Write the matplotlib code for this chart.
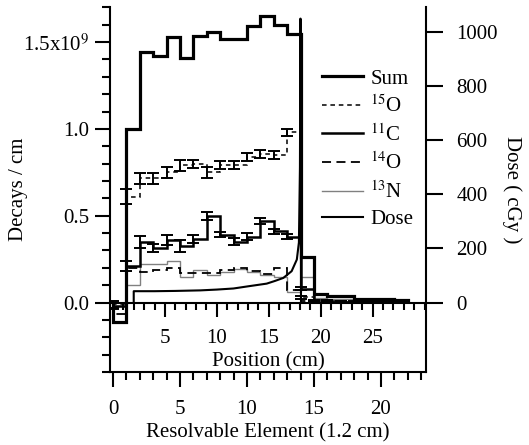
import numpy as np
import matplotlib
matplotlib.use("Agg")
import matplotlib.pyplot as plt
from matplotlib.ticker import MultipleLocator
from matplotlib.lines import Line2D

plt.rcParams['font.family'] = ['Liberation Serif', 'DejaVu Serif']
plt.rcParams['mathtext.fontset'] = 'stix'

# ---------------- data ----------------
CM_PER_ELEMENT = 1.29          # horizontal scale relation between the two x axes
DOSE_PER_UNIT = 642.0          # cGy per 1e9 decays/cm on the shared vertical scale

bin_edges = np.arange(0, 23)   # resolvable elements 0..22

# decays / cm in units of 1e9 (one value per element bin)
sum_vals = [-0.114, 1.00, 1.444, 1.42, 1.53, 1.406, 1.537, 1.556, 1.516, 1.52, 1.593,
            1.652, 1.598, 1.546, 0.26, 0.047, 0.035, 0.035, 0.02, 0.02, 0.018, 0.015]
o15_vals = [-0.01, 0.61, 0.715, 0.715, 0.75, 0.79, 0.80, 0.75, 0.79, 0.79, 0.84,
            0.855, 0.85, 0.98, 0.03, 0.012, 0.008, 0.006, 0.004, 0.004, 0.003, 0.003]
o15_err = [0.02, 0.043, 0.03, 0.03, 0.033, 0.03, 0.023, 0.03, 0.023, 0.023, 0.022,
           0.024, 0.022, 0.021, 0.01, 0.005, 0.004, 0.004, 0.003, 0.003, 0.003, 0.003]
c11_vals = [-0.02, 0.21, 0.35, 0.315, 0.36, 0.325, 0.365, 0.50, 0.39, 0.35, 0.38,
            0.47, 0.41, 0.38, 0.08, 0.006, 0.004, 0.004, 0.003, 0.003, 0.002, 0.002]
c11_err = [0.02, 0.03, 0.033, 0.025, 0.029, 0.034, 0.023, 0.022, 0.014, 0.019, 0.021,
           0.018, 0.015, 0.012, 0.01, 0.004, 0.003, 0.003, 0.003, 0.003, 0.003, 0.003]
o14_vals = [-0.065, 0.20, 0.175, 0.19, 0.20, 0.17, 0.17, 0.17, 0.185, 0.20, 0.18,
            0.165, 0.20, 0.07, 0.01, 0.003, 0.003, 0.003, 0.002, 0.002, 0.002, 0.001]
n13_vals = [-0.02, 0.10, 0.22, 0.22, 0.24, 0.15, 0.185, 0.156, 0.175, 0.195, 0.175,
            0.156, 0.146, 0.06, 0.146, 0.025, 0.02, 0.022, 0.012, 0.012, 0.012, 0.01]

# dose along depth
dose_pos_cm = [2.0, 2.0, 4.0, 6.0, 8.4, 10.0, 11.6, 13.0, 14.8, 15.6, 16.4, 17.2,
               17.7, 17.9, 18.0, 18.05, 18.1]
dose_cgy = [0, 42, 42, 43, 45, 48, 52, 60, 70, 80, 91, 116, 159, 222, 500, 1050, 0]

left_ticks = [0.0, 0.5, 1.0, 1.5]
left_ticklabels = ['0.0', '0.5', '1.0', '1.5x10$^9$']
dose_ticks = [0, 200, 400, 600, 800, 1000]
pos_ticks = [5, 10, 15, 20, 25]
elem_ticks = [0, 5, 10, 15, 20]

# ---------------- figure ----------------
W, H = 529, 445
fig = plt.figure(figsize=(W / 100, H / 100), dpi=100)
rect = [110 / W, 1 - 372 / H, (426 - 110) / W, (372 - 7.4) / H]
ax = fig.add_axes(rect)
ax2 = fig.add_axes(rect)
ax2.patch.set_visible(False)

FS = 15
xlim_e = (-0.22, 23.36)
ylim_d = (-0.4, 1.7)
ax.set_xlim(*xlim_e)
ax.set_ylim(*ylim_d)
ax2.set_xlim(xlim_e[0] * CM_PER_ELEMENT, xlim_e[1] * CM_PER_ELEMENT)
ax2.set_ylim(ylim_d[0] * DOSE_PER_UNIT, ylim_d[1] * DOSE_PER_UNIT)

# histograms
st_sum = dict(color='black', lw=2.3)
st_o15 = dict(color='black', lw=1.1, ls=(0, (3, 2.5)))
st_c11 = dict(color='black', lw=1.8)
st_o14 = dict(color='black', lw=1.3, ls=(0, (5, 3)))
st_n13 = dict(color='#808080', lw=1.0)
st_dose = dict(color='black', lw=1.5)

ax.stairs(n13_vals, bin_edges, **st_n13)
ax.stairs(o14_vals, bin_edges, **st_o14)
ax.stairs(c11_vals, bin_edges, **st_c11)
ax.errorbar(bin_edges[:-1], c11_vals, yerr=c11_err, fmt='none', ecolor='black',
            elinewidth=1.4, capsize=4.5, capthick=1.4)
ax.stairs(o15_vals, bin_edges, **st_o15)
ax.errorbar(bin_edges[:-1], o15_vals, yerr=o15_err, fmt='none', ecolor='black',
            elinewidth=1.4, capsize=4.5, capthick=1.4)
ax.stairs(sum_vals, bin_edges, **st_sum)

ax2.plot(dose_pos_cm, dose_cgy, **st_dose)

# spines
for s in ['top', 'right']:
    ax.spines[s].set_visible(False)
for s in ['left', 'bottom']:
    ax.spines[s].set_linewidth(1.5)
for s in ['left', 'top']:
    ax2.spines[s].set_visible(False)
ax2.spines['right'].set_linewidth(1.5)
ax2.spines['bottom'].set_linewidth(1.5)
ax2.spines['bottom'].set_position(('data', 0))

# left axis
ax.set_yticks(left_ticks)
ax.set_yticklabels(left_ticklabels)
ax.yaxis.set_minor_locator(MultipleLocator(0.1))
ax.set_xticks(elem_ticks)
ax.xaxis.set_minor_locator(MultipleLocator(1))
ax.tick_params(which='major', direction='out', length=11, width=1.5, labelsize=FS, pad=4)
ax.tick_params(which='minor', direction='out', length=5.5, width=1.5)
ax.tick_params(axis='x', which='major', pad=9)

# dose / position axes
ax2.yaxis.tick_right()
ax2.yaxis.set_label_position('right')
ax2.set_yticks(dose_ticks)
ax2.set_xticks(pos_ticks)
ax2.xaxis.set_minor_locator(MultipleLocator(1))
ax2.tick_params(axis='y', which='major', direction='out', length=12, width=1.5,
                labelsize=FS, pad=10)
ax2.tick_params(axis='x', which='major', direction='out', length=10, width=1.5,
                labelsize=FS, pad=9)
ax2.tick_params(axis='x', which='minor', direction='out', length=5, width=1.5)

# labels
ax.set_ylabel('Decays / cm', fontsize=FS)
ax.yaxis.set_label_coords(-0.26, 0.5)
ax.set_xlabel('Resolvable Element (1.2 cm)', fontsize=FS)
ax.xaxis.set_label_coords(0.5, -0.14)
ax2.set_xlabel('Position (cm)', fontsize=FS)
ax2.xaxis.set_label_coords(0.5, 0.055)
ax2.set_ylabel('Dose ( cGy )', fontsize=FS, rotation=270, va='bottom')
ax2.yaxis.set_label_coords(1.24, 0.5)

# legend
handles = [Line2D([], [], **st_sum), Line2D([], [], **st_o15), Line2D([], [], **st_c11),
           Line2D([], [], **st_o14), Line2D([], [], **st_n13), Line2D([], [], **st_dose)]
labels = ['Sum', '$^{15}$O', '$^{11}$C', '$^{14}$O', '$^{13}$N', 'Dose']
ax2.legend(handles, labels, loc='upper left', bbox_to_anchor=(322 / W, 1 - 69 / H),
           bbox_transform=fig.transFigure, frameon=False, fontsize=FS,
           handlelength=1.95, handletextpad=0.36, labelspacing=0.33, borderpad=0,
           borderaxespad=0)

fig.savefig('out.png', dpi=100)
